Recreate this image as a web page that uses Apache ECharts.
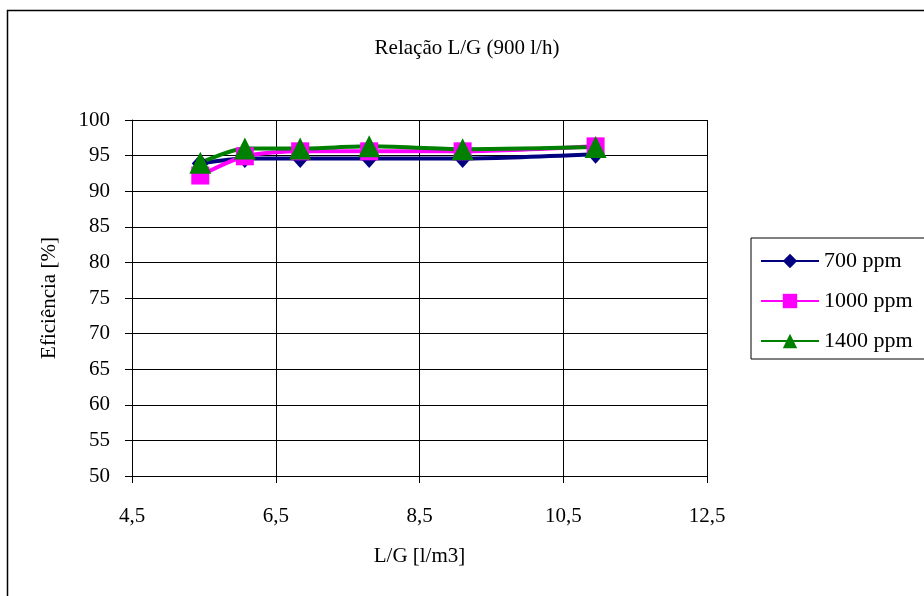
<!DOCTYPE html>
<html>
<head>
<meta charset="utf-8">
<script src="https://cdn.jsdelivr.net/npm/echarts@6/dist/echarts.min.js"></script>
<style>
html,body{margin:0;padding:0;background:#fff;}
#c{width:924px;height:596px;}
</style>
</head>
<body>
<div id="c"></div>
<script>
const lg = [5.45, 6.07, 6.84, 7.80, 9.10, 10.95];
const ef700 = [93.9, 94.6, 94.6, 94.6, 94.6, 95.2];
const ef1000 = [92.2, 94.9, 95.6, 95.6, 95.6, 96.3];
const ef1400 = [94.0, 96.0, 96.0, 96.3, 95.9, 96.2];
const seriesNames = ['700 ppm', '1000 ppm', '1400 ppm'];
const titleText = 'Relação L/G (900 l/h)';
const xName = 'L/G [l/m3]';
const yName = 'Eficiência [%]';

const FONT = '"Liberation Serif", "Times New Roman", serif';
const chart = echarts.init(document.getElementById('c'));
const pairs = arr => lg.map((x, i) => [x, arr[i]]);

chart.setOption({
  animation: false,
  backgroundColor: '#ffffff',
  textStyle: { fontFamily: FONT, color: '#000' },
  graphic: [{
    type: 'rect',
    shape: { x: 7.5, y: 10.5, width: 940, height: 620 },
    style: { fill: 'none', stroke: '#000', lineWidth: 1.5 },
    z: 0
  }],
  title: {
    text: titleText,
    left: 462, top: 33, textAlign: 'center',
    textStyle: { fontFamily: FONT, fontSize: 21, fontWeight: 'normal', color: '#000' }
  },
  grid: { left: 132, top: 120, width: 575, height: 356, show: false },
  xAxis: {
    type: 'value', min: 4.5, max: 12.5, interval: 2,
    name: xName, nameLocation: 'middle', nameGap: 70,
    nameTextStyle: { fontFamily: FONT, fontSize: 21, color: '#000' },
    axisLine: { show: true, lineStyle: { color: '#000', width: 1 } },
    axisTick: { show: true, inside: false, length: 7, lineStyle: { color: '#000' } },
    axisLabel: { margin: 30, fontFamily: FONT, fontSize: 21, color: '#000',
      formatter: v => v.toFixed(1).replace('.', ',') },
    splitLine: { show: true, lineStyle: { color: '#000', width: 1 } }
  },
  yAxis: {
    type: 'value', min: 50, max: 100, interval: 5,
    name: yName, nameLocation: 'middle', nameGap: 72, nameRotate: 90,
    nameTextStyle: { fontFamily: FONT, fontSize: 21, color: '#000' },
    axisLine: { show: true, lineStyle: { color: '#000', width: 1 } },
    axisTick: { show: true, inside: false, length: 7, lineStyle: { color: '#000' } },
    axisLabel: { margin: 22, fontFamily: FONT, fontSize: 21, color: '#000' },
    splitLine: { show: true, lineStyle: { color: '#000', width: 1 } }
  },
  legend: {
    orient: 'vertical', left: 751, top: 238,
    data: seriesNames,
    itemWidth: 58, itemHeight: 18, itemGap: 18,
    padding: [12, 40, 7, 9],
    borderColor: '#000', borderWidth: 1,
    textStyle: { fontFamily: FONT, fontSize: 22, lineHeight: 22, color: '#000' }
  },
  series: [
    { name: seriesNames[0], type: 'line', data: pairs(ef700), smooth: 0.25,
      symbol: 'diamond', symbolSize: [17, 19],
      lineStyle: { color: '#000080', width: 4 }, itemStyle: { color: '#000080' } },
    { name: seriesNames[1], type: 'line', data: pairs(ef1000), smooth: 0.25,
      symbol: 'rect', symbolSize: 18,
      lineStyle: { color: '#ff00ff', width: 4 }, itemStyle: { color: '#ff00ff' } },
    { name: seriesNames[2], type: 'line', data: pairs(ef1400), smooth: 0.25,
      symbol: 'triangle', symbolSize: [22, 22],
      lineStyle: { color: '#008000', width: 4 }, itemStyle: { color: '#008000' } }
  ]
});
</script>
</body>
</html>
